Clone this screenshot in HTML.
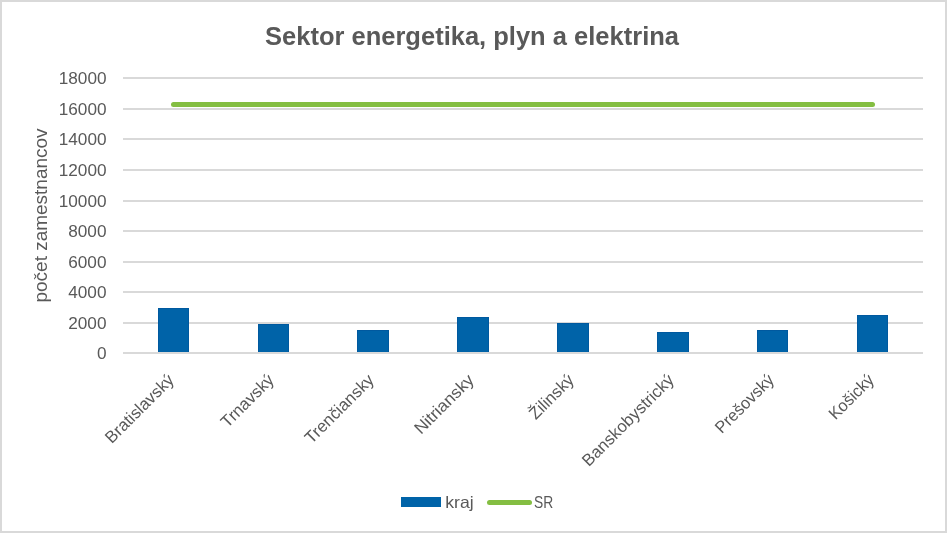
<!DOCTYPE html>
<html><head><meta charset="utf-8"><style>
html,body{margin:0;padding:0;background:#fff;}
svg{display:block;will-change:transform;font-family:"Liberation Sans",sans-serif;}
</style></head><body>
<svg width="947" height="533" viewBox="0 0 947 533">
<rect x="0" y="0" width="947" height="533" fill="#d9d9d9"/>
<rect x="2" y="2" width="943" height="529" fill="#ffffff"/>
<text x="265" y="45" font-size="26" font-weight="bold" fill="#595959" textLength="414" lengthAdjust="spacingAndGlyphs">Sektor energetika, plyn a elektrina</text>
<rect x="123" y="77" width="800" height="2" fill="#d9d9d9"/>
<rect x="123" y="108" width="800" height="2" fill="#d9d9d9"/>
<rect x="123" y="138" width="800" height="2" fill="#d9d9d9"/>
<rect x="123" y="169" width="800" height="2" fill="#d9d9d9"/>
<rect x="123" y="200" width="800" height="2" fill="#d9d9d9"/>
<rect x="123" y="230" width="800" height="2" fill="#d9d9d9"/>
<rect x="123" y="261" width="800" height="2" fill="#d9d9d9"/>
<rect x="123" y="291" width="800" height="2" fill="#d9d9d9"/>
<rect x="123" y="322" width="800" height="2" fill="#d9d9d9"/>
<rect x="123" y="352" width="800" height="2" fill="#d9d9d9"/>
<text x="106.5" y="83.8" font-size="17.2" fill="#595959" text-anchor="end">18000</text>
<text x="106.5" y="114.8" font-size="17.2" fill="#595959" text-anchor="end">16000</text>
<text x="106.5" y="144.8" font-size="17.2" fill="#595959" text-anchor="end">14000</text>
<text x="106.5" y="175.8" font-size="17.2" fill="#595959" text-anchor="end">12000</text>
<text x="106.5" y="206.8" font-size="17.2" fill="#595959" text-anchor="end">10000</text>
<text x="106.5" y="236.8" font-size="17.2" fill="#595959" text-anchor="end">8000</text>
<text x="106.5" y="267.8" font-size="17.2" fill="#595959" text-anchor="end">6000</text>
<text x="106.5" y="297.8" font-size="17.2" fill="#595959" text-anchor="end">4000</text>
<text x="106.5" y="328.8" font-size="17.2" fill="#595959" text-anchor="end">2000</text>
<text x="106.5" y="358.8" font-size="17.2" fill="#595959" text-anchor="end">0</text>
<rect x="158" y="308" width="31" height="44" fill="#00599F"/>
<rect x="159" y="309" width="29" height="43" fill="#0063A8"/>
<rect x="258" y="324" width="31" height="28" fill="#00599F"/>
<rect x="259" y="325" width="29" height="27" fill="#0063A8"/>
<rect x="357" y="330" width="32" height="22" fill="#00599F"/>
<rect x="358" y="331" width="30" height="21" fill="#0063A8"/>
<rect x="457" y="317" width="32" height="35" fill="#00599F"/>
<rect x="458" y="318" width="30" height="34" fill="#0063A8"/>
<rect x="557" y="323" width="32" height="29" fill="#00599F"/>
<rect x="558" y="324" width="30" height="28" fill="#0063A8"/>
<rect x="657" y="332" width="32" height="20" fill="#00599F"/>
<rect x="658" y="333" width="30" height="19" fill="#0063A8"/>
<rect x="757" y="330" width="31" height="22" fill="#00599F"/>
<rect x="758" y="331" width="29" height="21" fill="#0063A8"/>
<rect x="857" y="315" width="31" height="37" fill="#00599F"/>
<rect x="858" y="316" width="29" height="36" fill="#0063A8"/>
<line x1="173.5" y1="104.4" x2="872.5" y2="104.4" stroke="#84BE42" stroke-width="5" stroke-linecap="round"/>
<text transform="translate(47 302.5) rotate(-90)" font-size="18" fill="#595959" textLength="174" lengthAdjust="spacingAndGlyphs">počet zamestnancov</text>
<text transform="translate(175 381) rotate(-45)" font-size="16.8" fill="#595959" text-anchor="end" textLength="89.3" lengthAdjust="spacingAndGlyphs">Bratislavský</text>
<text transform="translate(275 381) rotate(-45)" font-size="16.8" fill="#595959" text-anchor="end" textLength="67.0" lengthAdjust="spacingAndGlyphs">Trnavský</text>
<text transform="translate(375 381) rotate(-45)" font-size="16.8" fill="#595959" text-anchor="end" textLength="89.9" lengthAdjust="spacingAndGlyphs">Trenčiansky</text>
<text transform="translate(475 381) rotate(-45)" font-size="16.8" fill="#595959" text-anchor="end" textLength="76.4" lengthAdjust="spacingAndGlyphs">Nitriansky</text>
<text transform="translate(575 381) rotate(-45)" font-size="16.8" fill="#595959" text-anchor="end" textLength="55.6" lengthAdjust="spacingAndGlyphs">Žilinský</text>
<text transform="translate(675 381) rotate(-45)" font-size="16.8" fill="#595959" text-anchor="end" textLength="122.0" lengthAdjust="spacingAndGlyphs">Banskobystrický</text>
<text transform="translate(775 381) rotate(-45)" font-size="16.8" fill="#595959" text-anchor="end" textLength="75.3" lengthAdjust="spacingAndGlyphs">Prešovský</text>
<text transform="translate(875 381) rotate(-45)" font-size="16.8" fill="#595959" text-anchor="end" textLength="56.0" lengthAdjust="spacingAndGlyphs">Košický</text>
<rect x="401" y="497" width="40" height="10" fill="#0063A8"/>
<text x="445.3" y="508" font-size="16.5" fill="#595959" textLength="28.4" lengthAdjust="spacingAndGlyphs">kraj</text>
<line x1="489.5" y1="502.5" x2="529.5" y2="502.5" stroke="#84BE42" stroke-width="5" stroke-linecap="round"/>
<text x="534" y="508" font-size="16.5" fill="#595959" textLength="19.2" lengthAdjust="spacingAndGlyphs">SR</text>
</svg>
</body></html>
